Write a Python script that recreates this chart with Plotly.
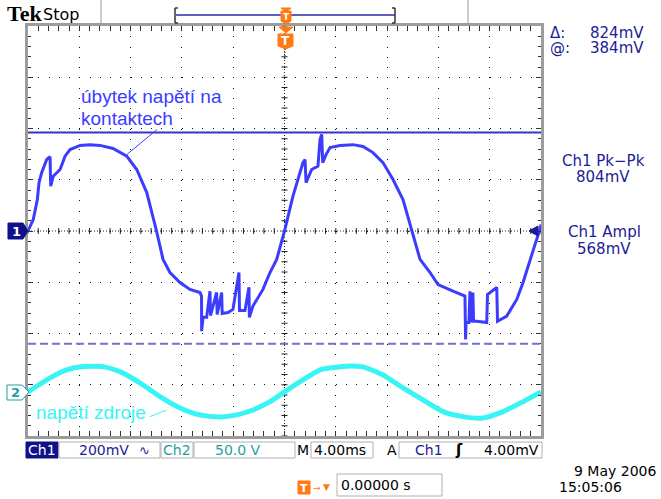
import plotly.graph_objects as go

ch1_t = [-20.0, -19.59, -19.27, -19.14, -18.93, -18.54, -18.28, -18.23, -18.03, -17.50,
         -17.11, -16.72, -15.94, -15.17, -14.39, -13.37, -12.30, -11.52, -10.74, -10.25,
         -9.98, -9.47, -8.93, -8.15, -7.37, -6.59, -6.47, -6.46, -6.35, -6.07,
         -5.81, -5.77, -5.29, -5.25, -4.90, -4.86, -4.41, -4.02, -3.55, -3.51,
         -3.08, -2.77, -2.74, -2.46, -1.68, -1.13, -0.61, 0.0, 0.66, 1.44,
         1.60, 1.68, 2.12, 2.61, 2.77, 2.90, 2.98, 3.24, 3.55, 4.33,
         5.34, 6.12, 6.90, 7.68, 8.46, 9.24, 9.92, 10.57, 11.35, 11.97,
         13.14, 14.07, 14.12, 14.15, 14.38, 14.46, 14.60, 14.69, 14.74, 14.99,
         15.77, 15.83, 16.55, 16.61, 17.33, 18.11, 18.60, 19.14, 19.53, 19.92, 20.0]
ch1_mv = [0, 45, 123, 189, 228, 279, 290, 175, 214, 240,
          292, 318, 334, 337, 334, 322, 292, 240, 150, 58,
          0, -111, -162, -201, -228, -240, -254, -391, -337, -337,
          -235, -330, -240, -326, -240, -322, -318, -306, -162, -310,
          -310, -220, -337, -293, -228, -162, -111, 0, 136, 267,
          279, 189, 240, 253, 357, 377, 267, 298, 326, 334,
          337, 330, 306, 267, 201, 123, 6, -111, -162, -209,
          -235, -254, -423, -357, -357, -235, -357, -240, -352, -352,
          -357, -248, -220, -352, -332, -267, -201, -111, -53, 6, 25]

ch2_t = [-20.0, -18.28, -16.98, -15.69, -14.15, -12.83, -11.27, -9.71, -8.15, -6.59,
         -5.03, -3.73, -2.46, -1.13, 0.0, 1.21, 2.77, 3.55, 5.11, 6.12,
         7.68, 9.24, 10.80, 12.36, 13.92, 15.48, 17.04, 18.60, 20.0]
ch2_v = [0, 13.7, 21.5, 24.7, 24.7, 19.8, 8.8, -4.6, -15.6, -22.4,
         -24.4, -22.4, -17.6, -9.5, 0, 10.0, 21.5, 23.4, 25.4, 24.4,
         16.6, 3.9, -7.8, -19.2, -24.1, -25.4, -19.2, -9.5, 0]

cursor_mv = [384, -440]          # @ level and second cursor (Δ = 824 mV)
ch1_scale_mv = 200               # mV / div
ch2_scale_v = 50                 # V / div
time_div_ms = 4                  # ms / div
ch2_ground_div = -3.14           # ch2 ground marker, divisions from centre

label_ch1 = ["úbytek napětí na", "kontaktech"]
label_ch2 = "napětí zdroje"
leader_ch1_t = [-9.94, -12.3]
leader_ch1_mv = [396, 298]
leader_ch2_t = [-10.5, -9.2]
leader_ch2_v = [-24.1, -17.6]

# ---------------- geometry helpers (pixel -> paper) ----------------
L, R, T, B = 28, 541, 26, 436
def PX(x):
    return (x - L) / (R - L)
def PY(y):
    return (B - y) / (B - T)

NAVY = "#1c1c96"
BLUE = "#3c3cff"
CYAN = "#38f4f4"
TEAL = "#1fa0a0"
ORANGE = "#ff7a12"
SANS = "DejaVu Sans"

fig = go.Figure()
fig.add_trace(go.Scatter(x=ch1_t, y=ch1_mv, mode="lines",
                         line=dict(color=BLUE, width=3), yaxis="y", hoverinfo="skip"))
fig.add_trace(go.Scatter(x=ch2_t, y=ch2_v, mode="lines",
                         line=dict(color=CYAN, width=5, shape="spline", smoothing=0.6),
                         yaxis="y2", hoverinfo="skip"))

xr = [-5 * time_div_ms, 5 * time_div_ms]
yr = [-4 * ch1_scale_mv, 4 * ch1_scale_mv]
y2r = [(-4 - ch2_ground_div) * ch2_scale_v, (4 - ch2_ground_div) * ch2_scale_v]

shapes = []
# cursors
shapes.append(dict(type="line", xref="x", yref="y", x0=xr[0], x1=xr[1],
                   y0=cursor_mv[0], y1=cursor_mv[0], line=dict(color="#3434c4", width=2)))
shapes.append(dict(type="line", xref="x", yref="y", x0=xr[0], x1=xr[1],
                   y0=cursor_mv[1], y1=cursor_mv[1],
                   line=dict(color="#7070d0", width=2, dash="8px,4px")))
# centre cross-hair (fine dotted with ticks)
shapes.append(dict(type="line", xref="x", yref="y", x0=xr[0], x1=xr[1], y0=0, y1=0,
                   line=dict(color="#222", width=1, dash="1px,2px"), layer="below"))
shapes.append(dict(type="line", xref="x", yref="y", x0=0, x1=0, y0=yr[0], y1=yr[1],
                   line=dict(color="#222", width=1, dash="1px,2px"), layer="below"))
for k in range(51):
    tx = xr[0] + k * time_div_ms / 5
    shapes.append(dict(type="line", xref="x", yref="y", ysizemode="pixel", yanchor=0,
                       x0=tx, x1=tx, y0=-3, y1=3, line=dict(color="#222", width=1), layer="below"))
for k in range(41):
    ty = yr[0] + k * ch1_scale_mv / 5
    shapes.append(dict(type="line", xref="x", yref="y", xsizemode="pixel", xanchor=0,
                       x0=-3, x1=3, y0=ty, y1=ty, line=dict(color="#222", width=1), layer="below"))
# leader lines
shapes.append(dict(type="line", xref="x", yref="y", x0=leader_ch1_t[0], x1=leader_ch1_t[1],
                   y0=leader_ch1_mv[0], y1=leader_ch1_mv[1], line=dict(color=BLUE, width=1)))
shapes.append(dict(type="line", xref="x", yref="y2", x0=leader_ch2_t[0], x1=leader_ch2_t[1],
                   y0=leader_ch2_v[0], y1=leader_ch2_v[1], line=dict(color=CYAN, width=1)))

def prect(x0, y0, x1, y1, line="#b0b0b0", fill="rgba(0,0,0,0)", lw=1):
    shapes.append(dict(type="rect", xref="paper", yref="paper", x0=PX(x0), x1=PX(x1),
                       y0=PY(y1), y1=PY(y0), line=dict(color=line, width=lw), fillcolor=fill))

def pline(x0, y0, x1, y1, color, width=1, dash="solid"):
    shapes.append(dict(type="line", xref="paper", yref="paper", x0=PX(x0), x1=PX(x1),
                       y0=PY(y0), y1=PY(y1), line=dict(color=color, width=width, dash=dash)))

def ppath(pts, fill, line=None, lw=1):
    d = "M " + " L ".join(f"{PX(a):.5f},{PY(b):.5f}" for a, b in pts) + " Z"
    shapes.append(dict(type="path", xref="paper", yref="paper", path=d, fillcolor=fill,
                       line=dict(color=line or fill, width=lw)))

# top bar
pline(101, 0, 101, 25, "#9a9a9a", 1)
pline(468, 0, 468, 25, "#9a9a9a", 1)
pline(176, 15, 395, 15, "#2a2aa8", 1.5)
pline(175, 8, 175, 23, "#333", 1.5)
pline(175, 8, 178, 8, "#333", 1.5)
pline(175, 23, 178, 23, "#333", 1.5)
pline(395, 8, 395, 23, "#333", 1.5)
pline(392, 8, 395, 8, "#333", 1.5)
pline(392, 23, 395, 23, "#333", 1.5)
# upper trigger-position marker
ppath([(281, 8), (291, 8), (286, 12)], ORANGE)
ppath([(281, 11), (291, 11), (291, 21), (286, 24), (281, 21)], ORANGE)
# lower trigger marker
ppath([(279, 27), (293, 27), (286, 33)], ORANGE)
ppath([(278, 34), (293, 34), (293, 46), (285.5, 49), (278, 46)], ORANGE)
pline(285, 49, 285, 60, "#000", 1, "1px,2px")
# left channel markers
ppath([(8, 223), (23, 223), (28, 231), (23, 239), (8, 239)], "#10108a")
ppath([(7, 385), (22, 385), (29, 392), (22, 400), (7, 400)], "#ffffff", line=TEAL, lw=1)
# trigger level marker right
ppath([(538, 226), (538, 236), (529, 231)], "#1c1c96")
# bottom status bar boxes
prect(26, 442, 58, 458, line="#10108a", fill="#10108a")
prect(59, 442, 160, 458)
prect(161, 442, 193, 458)
prect(194, 442, 295, 458)
prect(311, 442, 373, 458)
prect(399, 442, 542, 458)
prect(337, 474, 442, 496)
prect(298, 481, 310, 494, line=ORANGE, fill=ORANGE)

ann = []
def txt(x, y, s, color="#000", size=14, xanchor="left", family=SANS, bold=False):
    if bold:
        s = f"<b>{s}</b>"
    ann.append(dict(x=PX(x), y=PY(y), xref="paper", yref="paper", text=s, showarrow=False,
                    xanchor=xanchor, yanchor="middle", font=dict(color=color, size=size, family=family)))

txt(5, 14, "Tek", "#000", 22, family="Liberation Serif", bold=True)
txt(41, 15, "Stop", "#000", 16, family=SANS)
txt(286, 17, "T", "#fff", 9, "center", bold=True)
txt(285.5, 41, "T", "#fff", 12, "center", bold=True)
txt(16, 231, "1", "#fff", 13, "center", bold=True)
txt(15, 392, "2", TEAL, 13, "center", bold=True)

txt(548, 33, "Δ:", NAVY, 15)
txt(646, 33, "824mV", NAVY, 15, "right")
txt(548, 48, "@:", NAVY, 15)
txt(646, 48, "384mV", NAVY, 15, "right")
txt(603, 161, "Ch1 Pk−Pk", NAVY, 15, "center")
txt(603, 177, "804mV", NAVY, 15, "center")
txt(604, 232, "Ch1 Ampl", NAVY, 15, "center")
txt(604, 249, "568mV", NAVY, 15, "center")

txt(79, 96, label_ch1[0], BLUE, 19, family="Liberation Sans")
txt(79, 118.5, label_ch1[1], BLUE, 19, family="Liberation Sans")
txt(34, 412.5, label_ch2, CYAN, 19, family="Liberation Sans")

txt(42, 450, "Ch1", "#fff", 14, "center")
txt(77, 450, "200mV", NAVY, 14)
txt(137, 450, "∿", NAVY, 13)
txt(177, 450, "Ch2", TEAL, 14, "center")
txt(238, 450, "50.0 V", TEAL, 14, "center")
txt(303, 450, "M", "#000", 14, "center")
txt(312, 450, "4.00ms", "#000", 14)
txt(392, 450, "A", "#000", 14, "center")
txt(413, 450, "Ch1", NAVY, 14)
txt(459, 450, "ʃ", "#000", 15, "center", bold=True)
txt(541, 450, "4.00mV", "#000", 14, "right")
txt(304, 488, "T", "#fff", 11, "center", bold=True)
txt(311, 488, "→", ORANGE, 9)
txt(321, 487, "▼", ORANGE, 9)
txt(339, 485, "0.00000 s", "#000", 14)
txt(658, 471, "9 May 2006", "#000", 14, "right")
txt(557, 487, "15:05:06", "#000", 14)

grid = dict(showgrid=True, gridcolor="#111", gridwidth=1, griddash="1px,9.26px",
            zeroline=False, showticklabels=False, showline=True, linecolor="#9c9c9c",
            linewidth=3, mirror="allticks", ticks="inside", ticklen=5, tickcolor="#333",
            fixedrange=True)

fig.update_layout(
    width=661, height=499,
    margin=dict(l=L, r=661 - R, t=T, b=499 - B),
    paper_bgcolor="#ffffff", plot_bgcolor="#ffffff",
    showlegend=False,
    xaxis=dict(range=xr, dtick=time_div_ms, tick0=xr[0],
               minor=dict(dtick=time_div_ms / 5, ticks="inside", ticklen=3, tickcolor="#333"),
               **grid),
    yaxis=dict(range=yr, dtick=ch1_scale_mv, tick0=yr[0],
               minor=dict(dtick=ch1_scale_mv / 5, ticks="inside", ticklen=3, tickcolor="#333"),
               **grid),
    yaxis2=dict(range=y2r, overlaying="y", visible=False, fixedrange=True),
    shapes=shapes,
    annotations=ann,
)

fig.write_html("out.html", config={"displayModeBar": False},
               post_script="document.body.style.margin='0';document.body.style.overflow='hidden';")
